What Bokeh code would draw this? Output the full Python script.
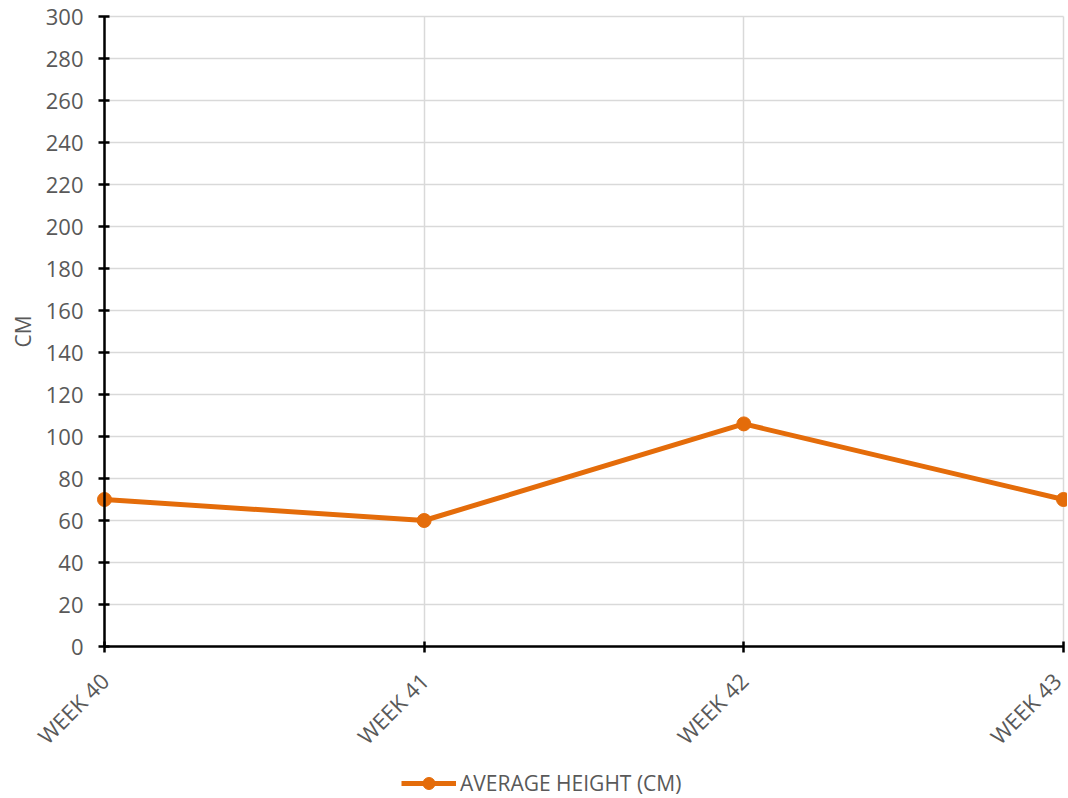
import math
from bokeh.plotting import figure
from bokeh.models import FixedTicker, Legend, LegendItem, Range1d, Label
from bokeh.embed import file_html
from bokeh.resources import INLINE

categories = ["WEEK 40", "WEEK 41", "WEEK 42", "WEEK 43"]
avg_height = [70, 60, 106, 70]
y_ticks = list(range(0, 301, 20))
Y_MIN, Y_MAX = 0, 300
Y_TITLE = "CM"
SERIES_NAME = "AVERAGE HEIGHT (CM)"

FONT = "Open Sans"
GREY = "#595959"
ORANGE = "#E46C0A"

x = list(range(len(categories)))
X_MIN, X_MAX = 0, len(categories) - 1

# Layout (pixels): plot area 104..1063 x 16..646; the frame covers the whole
# canvas so that axis labels and legend are drawn inside it.
PLOT_L, PLOT_R, PLOT_T, PLOT_B = 104, 1063, 16, 646
CANVAS_W, CANVAS_H = 1067, 798
PX_X = (PLOT_R - PLOT_L) / (X_MAX - X_MIN)
PX_Y = (PLOT_B - PLOT_T) / (Y_MAX - Y_MIN)

p = figure(frame_width=CANVAS_W, frame_height=CANVAS_H, output_backend="svg",
           toolbar_location=None,
           x_range=Range1d(X_MIN - PLOT_L / PX_X, X_MAX + (CANVAS_W - PLOT_R) / PX_X),
           y_range=Range1d(Y_MIN - (CANVAS_H - PLOT_B) / PX_Y, Y_MAX + PLOT_T / PX_Y),
           min_border_left=0, min_border_top=0,
           min_border_right=0, min_border_bottom=0)
p.outline_line_color = None

line = p.line(x, avg_height, line_color=ORANGE, line_width=5)
pts = p.scatter(x, avg_height, size=14, fill_color=ORANGE, line_color=ORANGE)

p.xaxis.ticker = FixedTicker(ticks=x)
p.xaxis.major_label_overrides = {i: c for i, c in enumerate(categories)}
p.xaxis.major_label_orientation = math.pi / 4
p.xaxis.fixed_location = Y_MIN
p.xaxis.bounds = (X_MIN, X_MAX)
p.yaxis.ticker = FixedTicker(ticks=y_ticks)
p.yaxis.fixed_location = X_MIN
p.yaxis.bounds = (Y_MIN, Y_MAX)

for ax in (p.xaxis[0], p.yaxis[0]):
    ax.axis_line_color = "black"
    ax.axis_line_width = 2.5
    ax.major_tick_line_color = "black"
    ax.major_tick_line_width = 2.5
    ax.major_tick_in = 5
    ax.major_tick_out = 6
    ax.minor_tick_line_color = None
    ax.major_label_text_font = FONT
    ax.major_label_text_font_size = "22px"
    ax.major_label_text_color = GREY

p.yaxis.major_label_standoff = 15
p.xaxis.major_label_standoff = 24

p.add_layout(Label(x=X_MIN - (PLOT_L - 22) / PX_X, y=(Y_MIN + Y_MAX) / 2,
                   text=Y_TITLE, angle=math.pi / 2, text_align="center",
                   text_baseline="middle", text_font=FONT,
                   text_font_size="21px", text_color=GREY))

p.xgrid.ticker = FixedTicker(ticks=x)
p.ygrid.ticker = FixedTicker(ticks=y_ticks)
p.xgrid.cross_bounds = (Y_MIN, Y_MAX)
p.ygrid.cross_bounds = (X_MIN, X_MAX)
p.xgrid.grid_line_color = "#D9D9D9"
p.ygrid.grid_line_color = "#D9D9D9"
p.xgrid.grid_line_width = 1.5
p.ygrid.grid_line_width = 1.5

legend = Legend(items=[LegendItem(label=SERIES_NAME, renderers=[line, pts])],
                orientation="horizontal", location=(401, 0),
                label_text_font=FONT, label_text_font_size="21px",
                label_text_color=GREY, glyph_width=55, glyph_height=30,
                border_line_color=None, background_fill_alpha=0,
                margin=0, padding=2, label_standoff=4)
p.add_layout(legend, "center")

open("out.html", "w").write(file_html(p, INLINE))
